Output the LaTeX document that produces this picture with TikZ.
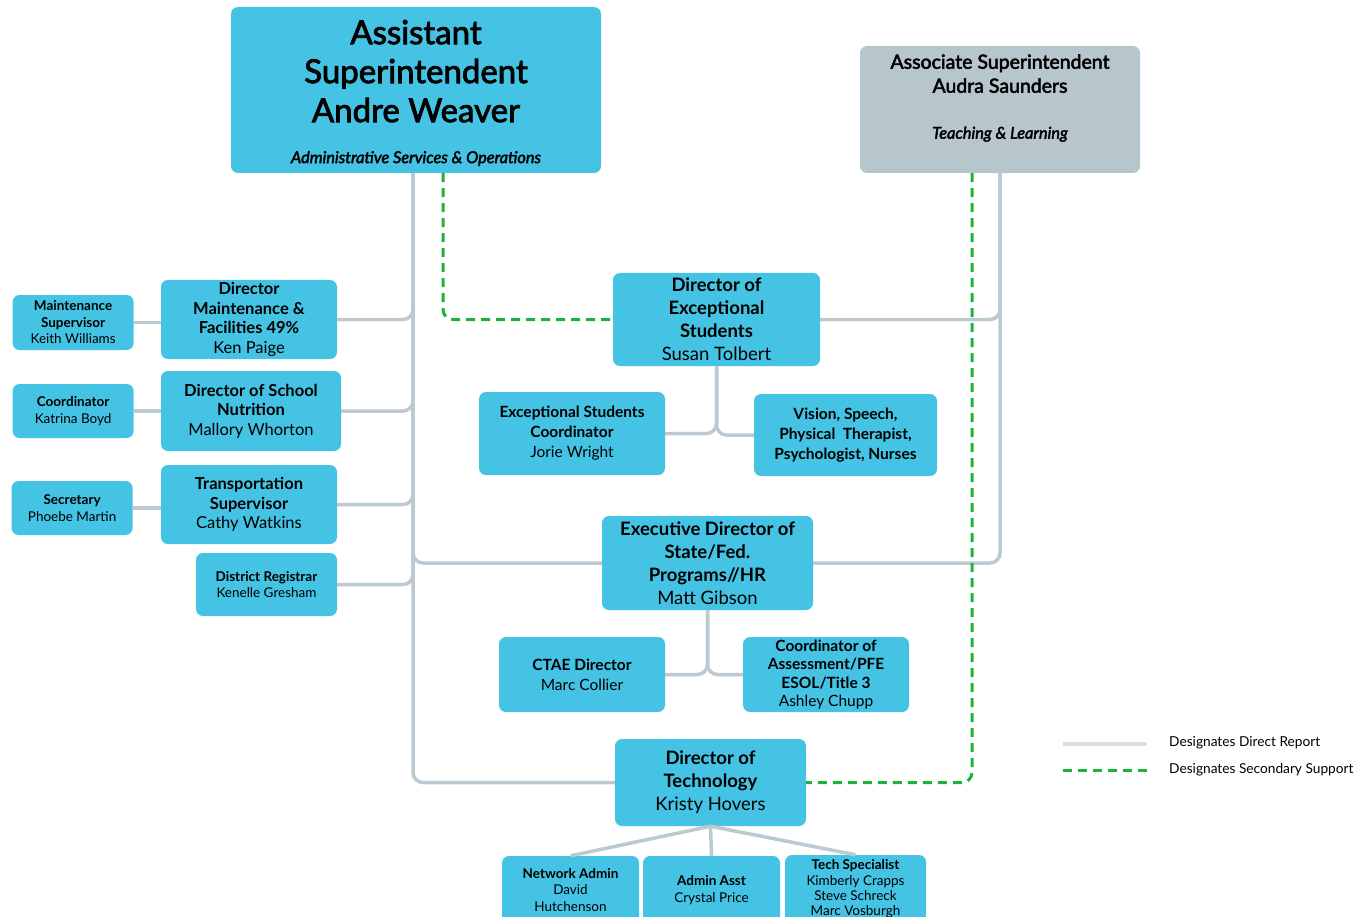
\documentclass[tikz,border=0pt]{standalone}
\usepackage{fontspec}
\setmainfont{Lato}
\newfontfamily\latomed{Lato}[FakeBold=2.5]
\usetikzlibrary{positioning, calc}

\definecolor{boxblue}{HTML}{45C3E4}
\definecolor{boxgray}{HTML}{B7C5CC}
\definecolor{linegray}{HTML}{BCC9D0}
\definecolor{legendgray}{HTML}{DCDFE4}
\definecolor{supportgreen}{HTML}{1DB33A}

\begin{document}
\begin{tikzpicture}[x=1pt, y=-1pt,
    unit/.style={fill=boxblue, rounded corners=7pt, align=center, inner sep=0pt},
    report/.style={draw=linegray, line width=3.5pt, rounded corners=10pt},
    support/.style={draw=supportgreen, line width=3pt, dash pattern=on 9pt off 6pt, rounded corners=10pt},
    big/.style={font=\latomed\fontsize{33}{39}\selectfont},
    mid/.style={font=\fontsize{18.5}{23}\selectfont},
    side/.style={font=\fontsize{16.5}{19.5}\selectfont},
    small/.style={font=\fontsize{15.5}{20}\selectfont},
    tiny/.style={font=\fontsize{13.5}{16.5}\selectfont}]
    \useasboundingbox (0,0) rectangle (1362,917);

    % top level
    \node[unit, big, minimum width=370pt, minimum height=166pt] (asst) at (416,90)
        {\rule{0pt}{30pt}Assistant\\Superintendent\\Andre Weaver\\[2pt]
         {\fontsize{16.3}{20}\selectfont\itshape Administrative Services \& Operations}};
    \node[unit, fill=boxgray, font=\latomed\fontsize{19.5}{24}\selectfont, minimum width=280pt, minimum height=127pt] (assoc) at (1000,109.5)
        {Associate Superintendent\\Audra Saunders\\[22pt]
         {\fontsize{16.3}{20}\selectfont\itshape Teaching \& Learning}\\[2pt]\mbox{}};
    \coordinate (trunk) at ($(asst.south)+(-3,0)$);

    % left column
    \node[unit, side, minimum width=176pt, minimum height=79pt] (dmaint) at (249,319.5)
        {\textbf{Director}\\\textbf{Maintenance \&}\\\textbf{Facilities 49\%}\\Ken Paige};
    \node[unit, side, minimum width=180pt, minimum height=80pt] (nutrition) at (251,411)
        {\textbf{Director of School}\\\textbf{Nutrition}\\Mallory Whorton};
    \node[unit, side, minimum width=176pt, minimum height=79pt] (transport) at (249,504.5)
        {\textbf{Transportation}\\\textbf{Supervisor}\\Cathy Watkins};
    \node[unit, tiny, minimum width=141pt, minimum height=63pt] (registrar) at (266.5,584.5)
        {\textbf{District Registrar}\\Kenelle Gresham};
    \node[unit, tiny, minimum width=121pt, minimum height=55pt, left=27pt of dmaint, yshift=-3pt] (maintsup)
        {\textbf{Maintenance}\\\textbf{Supervisor}\\Keith Williams};
    \node[unit, tiny, minimum width=121pt, minimum height=54pt, left=27pt of nutrition] (coordkb)
        {\textbf{Coordinator}\\Katrina Boyd};
    \node[unit, tiny, minimum width=121pt, minimum height=54pt, left=28pt of transport, yshift=-3.5pt] (secretary)
        {\textbf{Secretary}\\Phoebe Martin};

    % exceptional students
    \node[unit, mid, minimum width=207pt, minimum height=93pt] (dexc) at (716.5,319.5)
        {\textbf{Director of}\\\textbf{Exceptional}\\\textbf{Students}\\Susan Tolbert};
    \node[unit, small, minimum width=186pt, minimum height=83pt] (esc) at (572,433.5)
        {\textbf{Exceptional Students}\\\textbf{Coordinator}\\Jorie Wright};
    \node[unit, small, font=\fontsize{15.5}{20}\selectfont\bfseries, minimum width=183pt, minimum height=82pt] (vision) at (845.5,435)
        {Vision, Speech,\\Physical\ \ Therapist,\\Psychologist, Nurses};

    % state / fed programs
    \node[unit, mid, minimum width=211pt, minimum height=94pt] (exec) at (707.5,563)
        {\textbf{Executive Director of}\\\textbf{State/Fed.}\\\textbf{Programs//HR}\\Matt Gibson};
    \node[unit, small, minimum width=166pt, minimum height=75pt] (ctae) at (582,674.5)
        {\textbf{CTAE Director}\\Marc Collier};
    \node[unit, font=\fontsize{15.5}{18.3}\selectfont, minimum width=166pt, minimum height=75pt] (assess) at (826,674.5)
        {\textbf{Coordinator of}\\\textbf{Assessment/PFE}\\\textbf{ESOL/Title 3}\\Ashley Chupp};

    % technology
    \node[unit, mid, minimum width=191pt, minimum height=87pt] (tech) at (710.5,782.5)
        {\textbf{Director of}\\\textbf{Technology}\\Kristy Hovers};
    \node[unit, tiny, minimum width=137pt, minimum height=68pt] (network) at (570.5,890)
        {\textbf{Network Admin}\\David\\Hutchenson};
    \node[unit, tiny, minimum width=137pt, minimum height=68pt] (adminasst) at (711.5,890)
        {\textbf{Admin Asst}\\Crystal Price};
    \node[unit, font=\fontsize{13.5}{15.3}\selectfont, minimum width=141pt, minimum height=68pt] (techspec) at (855.5,889)
        {\textbf{Tech Specialist}\\Kimberly Crapps\\Steve Schreck\\Marc Vosburgh};

    % direct reports
    \draw[report] (trunk) |- (tech.west);
    \draw[report] (trunk) |- (exec.west);
    \draw[report] (dmaint.east) -| (trunk);
    \draw[report] (nutrition.east) -| (trunk);
    \draw[report] (transport.east) -| (trunk);
    \draw[report] (registrar.east) -| (trunk);
    \draw[report] (dexc.east) -| (assoc.south);
    \draw[report] (exec.east) -| (assoc.south);
    \draw[report] (maintsup.east) -- (maintsup.east -| dmaint.west);
    \draw[report] (coordkb.east) -- (coordkb.east -| nutrition.west);
    \draw[report] (secretary.east) -- (secretary.east -| transport.west);
    \draw[report] (dexc.south) |- (esc.east);
    \draw[report] (dexc.south) |- (vision.west);
    \draw[report] (exec.south) |- (ctae.east);
    \draw[report] (exec.south) |- (assess.west);
    \draw[report] (tech.south) -- (network.north);
    \draw[report] (tech.south) -- (adminasst.north);
    \draw[report] (tech.south) -- (techspec.north);

    % secondary support
    \draw[support] ($(asst.south)+(27,0)$) |- (dexc.west);
    \draw[support] ($(assoc.south)+(-28,0)$) |- (tech.east);

    % legend
    \coordinate (direct-a) at (1063,744);
    \coordinate (direct-b) at (1147,744);
    \coordinate (second-a) at (1063,770);
    \coordinate (second-b) at (1152,770);
    \draw[report, draw=legendgray] (direct-a) -- (direct-b);
    \draw[support] (second-a) -- (second-b);
    \node[anchor=west, inner sep=0pt, font=\fontsize{13.7}{15}\selectfont] (direct-text) at (1169,743) {Designates Direct Report};
    \node[anchor=west, inner sep=0pt, font=\fontsize{13.7}{15}\selectfont] (second-text) at (1169,770) {Designates Secondary Support};
\end{tikzpicture}
\end{document}
